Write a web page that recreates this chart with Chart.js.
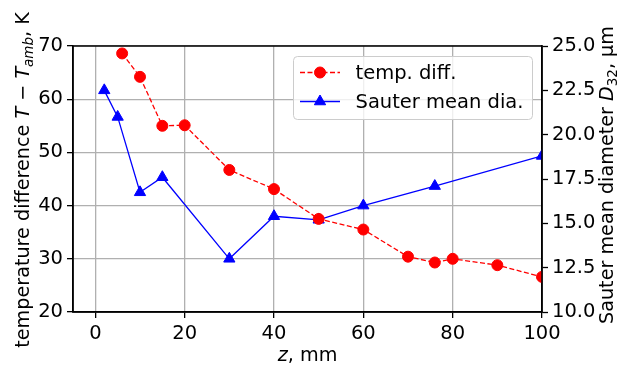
<!DOCTYPE html>
<html>
<head>
<meta charset="utf-8">
<script src="https://cdn.jsdelivr.net/npm/chart.js@4.4.1/dist/chart.umd.min.js"></script>
<style>
  html, body { margin: 0; padding: 0; background: #fff; }
</style>
</head>
<body>
<canvas id="chart" width="618" height="370"></canvas>
<script>
// temperature difference (left axis)
const zTemp = [6, 10, 15, 20, 30, 40, 50, 60, 70, 76, 80, 90, 100];
const tempDiff = [68.6, 64.2, 55.0, 55.1, 46.7, 43.1, 37.5, 35.5, 30.4, 29.3, 30.0, 28.8, 26.6];

// Sauter mean diameter (right axis)
const zSauter = [2, 5, 10, 15, 30, 40, 50, 60, 76, 100];
const sauterDia = [22.5, 21.0, 16.75, 17.6, 13.0, 15.4, 15.2, 16.0, 17.1, 18.8];

const xTicks = [0, 20, 40, 60, 80, 100];
const yTicks = [20, 30, 40, 50, 60, 70];
const y2Ticks = [10, 12.5, 15, 17.5, 20, 22.5, 25];

const FONT = "DejaVu Sans";
const FS = 19.5;   // ticks + legend
const TFS = 19.2;  // axis titles

// axis titles with italics / subscripts like mathtext
const xTitle = [{ t: "z", it: true }, { t: ", mm" }];
const yTitle = [
  { t: "temperature difference " }, { t: "T", it: true }, { t: " \u2212 " },
  { t: "T", it: true }, { t: "amb", it: true, sub: true }, { t: ", K" }
];
const y2Title = [
  { t: "Sauter mean diameter " }, { t: "D", it: true }, { t: "32", sub: true }, { t: ", \u03bcm" }
];

function partFont(p) {
  const size = p.sub ? TFS * 0.7 : TFS;
  return (p.it ? "italic " : "") + size + "px '" + FONT + "'";
}

function drawRich(ctx, parts, cx, cy, rot) {
  ctx.save();
  ctx.translate(cx, cy);
  ctx.rotate(rot);
  ctx.textBaseline = "alphabetic";
  ctx.textAlign = "left";
  ctx.fillStyle = "#000";
  let w = 0;
  parts.forEach(p => { ctx.font = partFont(p); w += ctx.measureText(p.t).width; });
  let x = -w / 2;
  parts.forEach(p => {
    ctx.font = partFont(p);
    ctx.fillText(p.t, x, p.sub ? TFS * 0.22 : 0);
    x += ctx.measureText(p.t).width;
  });
  ctx.restore();
}

const fixTicks = arr => scale => { scale.ticks = arr.map(v => ({ value: v })); };

const decor = {
  id: "decor",
  afterDatasetsDraw(chart) {
    const { ctx, chartArea: a } = chart;
    ctx.save();
    ctx.strokeStyle = "#000";
    ctx.lineWidth = 1.5;
    ctx.strokeRect(a.left, a.top, a.right - a.left, a.bottom - a.top);
    ctx.restore();
  },
  afterDraw(chart) {
    const { ctx, chartArea: a } = chart;
    drawRich(ctx, xTitle, (a.left + a.right) / 2, 361, 0);
    drawRich(ctx, yTitle, 29, 180, -Math.PI / 2);
    drawRich(ctx, y2Title, 613, 175, -Math.PI / 2);

    // legend box, matplotlib style
    const w = 239, h = 63;
    const lx = a.right - 10 - w, ly = a.top + 10;
    ctx.save();
    ctx.beginPath();
    ctx.roundRect(lx + 0.5, ly + 0.5, w, h, 4);
    ctx.fillStyle = "rgba(255,255,255,0.8)";
    ctx.fill();
    ctx.strokeStyle = "#cccccc";
    ctx.lineWidth = 1;
    ctx.stroke();
    chart.data.datasets.forEach((ds, i) => {
      const y = ly + 16.5 + i * 29;
      ctx.strokeStyle = ds.borderColor;
      ctx.lineWidth = ds.borderWidth;
      ctx.setLineDash(ds.borderDash || []);
      ctx.beginPath();
      ctx.moveTo(lx + 7, y);
      ctx.lineTo(lx + 47, y);
      ctx.stroke();
      ctx.setLineDash([]);
      ctx.fillStyle = ds.pointBackgroundColor;
      ctx.strokeStyle = ds.pointBorderColor;
      ctx.lineWidth = 1;
      Chart.helpers.drawPoint(ctx, { pointStyle: ds.pointStyle, radius: ds.pointRadius, rotation: 0, borderWidth: 1 }, lx + 27, y);
      ctx.fillStyle = "#000";
      ctx.font = FS + "px '" + FONT + "'";
      ctx.textBaseline = "middle";
      ctx.textAlign = "left";
      ctx.fillText(ds.label, lx + 62.5, y + 1);
    });
    ctx.restore();
  }
};

new Chart(document.getElementById("chart"), {
  type: "line",
  data: {
    datasets: [
      {
        label: "temp. diff.",
        data: zTemp.map((x, i) => ({ x, y: tempDiff[i] })),
        yAxisID: "y",
        borderColor: "#ff0000",
        borderWidth: 1.3,
        borderDash: [5, 2.5],
        pointStyle: "circle",
        pointRadius: 5.5,
        pointBackgroundColor: "#ff0000",
        pointBorderColor: "#ff0000",
        pointBorderWidth: 1,
        tension: 0,
        clip: 0
      },
      {
        label: "Sauter mean dia.",
        data: zSauter.map((x, i) => ({ x, y: sauterDia[i] })),
        yAxisID: "y2",
        borderColor: "#0000ff",
        borderWidth: 1.3,
        pointStyle: "triangle",
        pointRadius: 6.5,
        pointBackgroundColor: "#0000ff",
        pointBorderColor: "#0000ff",
        pointBorderWidth: 1,
        tension: 0,
        clip: 0
      }
    ]
  },
  options: {
    responsive: false,
    animation: false,
    layout: { padding: { top: 46, left: 0, right: 0, bottom: 0 } },
    plugins: { legend: { display: false }, tooltip: { enabled: false } },
    scales: {
      x: {
        type: "linear",
        min: -5,
        max: 100,
        afterBuildTicks: fixTicks(xTicks),
        afterFit: s => { s.height = 58; },
        grid: { color: "#b0b0b0", lineWidth: 1.3, tickColor: "#000", tickLength: 6, tickWidth: 1.3 },
        border: { display: true, color: "#000", width: 1.5 },
        ticks: { color: "#000", font: { family: FONT, size: FS }, padding: 4, maxRotation: 0 }
      },
      y: {
        position: "left",
        min: 20,
        max: 70,
        afterBuildTicks: fixTicks(yTicks),
        afterFit: s => { s.width = 73; },
        grid: { color: "#b0b0b0", lineWidth: 1.3, tickColor: "#000", tickLength: 6, tickWidth: 1.3 },
        border: { display: true, color: "#000", width: 1.5 },
        ticks: { color: "#000", font: { family: FONT, size: FS }, padding: 4 }
      },
      y2: {
        position: "right",
        min: 10,
        max: 25,
        afterBuildTicks: fixTicks(y2Ticks),
        afterFit: s => { s.width = 76; },
        grid: { drawOnChartArea: false, tickColor: "#000", tickLength: 6, tickWidth: 1.3 },
        border: { display: true, color: "#000", width: 1.5 },
        ticks: { color: "#000", font: { family: FONT, size: FS }, padding: 4, callback: v => v.toFixed(1) }
      }
    }
  },
  plugins: [decor]
});
</script>
</body>
</html>
